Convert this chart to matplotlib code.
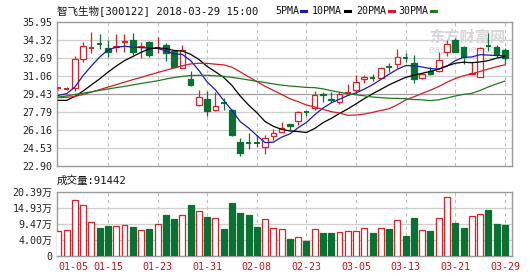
import numpy as np
import pandas as pd
import matplotlib
matplotlib.use("Agg")
import matplotlib.pyplot as plt
from matplotlib.patches import Rectangle
from matplotlib.lines import Line2D

# ---------------- data ----------------
TITLE = "智飞生物[300122] 2018-03-29 15:00"

DATES = ["01-05", "01-08", "01-09", "01-10", "01-11", "01-12", "01-15", "01-16",
         "01-17", "01-18", "01-19", "01-22", "01-23", "01-24", "01-25", "01-26",
         "01-29", "01-30", "01-31", "02-01", "02-02", "02-05", "02-06", "02-07",
         "02-08", "02-09", "02-12", "02-13", "02-14", "02-22", "02-23", "02-26",
         "02-27", "02-28", "03-01", "03-02", "03-05", "03-06", "03-07", "03-08",
         "03-09", "03-12", "03-13", "03-14", "03-15", "03-16", "03-19", "03-20",
         "03-21", "03-22", "03-23", "03-26", "03-27", "03-28", "03-29"]

OPEN = [29.90, 29.85, 30.00, 32.60, 33.55, 34.00, 33.55, 33.65, 34.15, 34.30,
        33.65, 34.10, 33.55, 33.85, 33.30, 31.80, 30.80, 28.40, 28.95, 27.95,
        28.70, 28.00, 25.10, 25.05, 25.00, 24.65, 25.65, 26.00, 26.70, 27.00,
        27.85, 28.15, 29.40, 29.00, 28.70, 29.45, 29.80, 30.75, 30.95, 30.90,
        31.95, 32.15, 32.70, 32.25, 30.85, 31.50, 31.50, 33.20, 34.35, 33.65,
        31.25, 31.00, 33.85, 33.65, 33.45]
HIGH = [30.10, 30.05, 32.90, 34.10, 35.00, 34.85, 34.30, 34.90, 34.90, 34.95,
        34.10, 34.25, 34.55, 34.05, 33.45, 33.85, 31.50, 29.80, 29.70, 29.65,
        29.10, 28.10, 25.45, 25.85, 25.70, 25.70, 26.25, 26.90, 26.75, 27.90,
        27.90, 29.70, 29.60, 29.60, 29.65, 30.30, 31.15, 31.15, 31.20, 31.90,
        32.27, 33.50, 33.10, 33.00, 31.30, 31.85, 33.20, 34.30, 34.50, 33.75,
        32.35, 33.72, 34.95, 33.87, 33.55]
LOW = [29.80, 29.75, 29.70, 32.35, 33.10, 33.50, 32.75, 33.25, 33.20, 32.95,
       32.65, 32.80, 33.15, 32.40, 31.85, 31.75, 30.15, 28.35, 27.45, 27.90,
       28.00, 25.65, 23.85, 24.40, 24.60, 24.00, 25.25, 25.95, 26.15, 26.60,
       27.40, 28.00, 28.70, 28.70, 28.55, 29.35, 29.45, 30.40, 30.60, 30.85,
       31.40, 31.80, 32.30, 30.40, 30.80, 31.15, 31.40, 32.85, 33.20, 32.15,
       31.20, 30.95, 33.35, 32.80, 32.10]
CLOSE = [29.95, 29.90, 32.60, 33.80, 33.60, 33.95, 33.20, 33.75, 34.25, 33.20,
         33.75, 33.00, 33.60, 33.10, 31.90, 33.45, 30.20, 29.15, 27.85, 28.35,
         28.65, 25.70, 24.05, 25.00, 24.95, 25.40, 25.90, 26.30, 26.50, 27.75,
         27.80, 29.35, 29.30, 28.90, 29.40, 29.50, 30.55, 31.00, 30.90, 31.75,
         31.90, 32.80, 32.65, 30.80, 31.20, 31.20, 32.55, 34.00, 33.25, 32.75,
         31.35, 33.60, 33.80, 33.05, 32.70]

# volume in units of 10,000 lots (万手)
VOLUME = [7.03, 7.37, 17.57, 16.10, 9.99, 8.16, 8.73, 8.73, 9.07, 8.39,
          7.37, 7.71, 9.30, 12.47, 11.20, 12.70, 16.10, 13.83, 11.80, 11.35,
          7.71, 16.55, 13.15, 12.47, 8.39, 11.10, 8.05, 7.71, 4.32, 4.88,
          3.64, 7.60, 6.25, 6.25, 6.58, 6.93, 6.93, 7.95, 6.25, 8.16,
          7.71, 10.67, 5.33, 11.56, 7.37, 7.03, 11.35, 18.69, 9.65, 8.16,
          12.13, 13.04, 14.17, 9.41, 9.1442]

# moving-average values before a full window of closes is available
MA5_HEAD = [29.30, 29.45, 30.05, 31.10]
MA10_HEAD = [28.85, 28.85, 29.20, 29.70, 30.25, 30.80, 31.40, 31.95, 32.45]
MA20_HEAD = [29.10, 29.12, 29.20, 29.38, 29.60, 29.82, 30.05, 30.27, 30.50, 30.72,
             30.93, 31.15, 31.37, 31.58, 31.78, 31.98, 32.15, 32.21, 32.20]
MA30_HEAD = [29.15, 29.25, 29.38, 29.50, 29.62, 29.75, 29.88, 30.00, 30.12, 30.25,
             30.38, 30.50, 30.62, 30.78, 30.92, 31.02, 31.10, 31.12, 31.12, 31.08,
             31.02, 30.93, 30.82, 30.70, 30.58, 30.46, 30.34, 30.23, 30.15]

PRICE_MIN, PRICE_MAX = 22.90, 35.95
PRICE_LABELS = ["22.90", "24.53", "26.16", "27.79", "29.43",
                "31.06", "32.69", "34.32", "35.95"]
VOL_MAX = 20.39
VOL_LABELS = ["0", "4.00万", "9.47万", "14.93万", "20.39万"]
TICK_EVERY = 6

# ---------------- style ----------------
plt.rcParams['font.family'] = ['DejaVu Sans Mono', 'Noto Sans CJK SC']
RED = '#dd1f26'
GREEN = '#0a7132'
GRID = '#cfcfcf'
FRAME = '#9a9a9a'
W, H = 530, 276

fig = plt.figure(figsize=(W / 100, H / 100), dpi=100)
fig.patch.set_facecolor('white')


def fx(px):
    return px / W


def fy(py):
    return 1 - py / H


ax = fig.add_axes([fx(56.5), fy(166), fx(512) - fx(56.5), fy(22) - fy(166)])
axv = fig.add_axes([fx(56.5), fy(256), fx(512) - fx(56.5), fy(192) - fy(256)])

n = len(CLOSE)
x = np.arange(n)
o, h, l, c = map(np.asarray, (OPEN, HIGH, LOW, CLOSE))
rising = c >= o


def moving_average(win, head):
    ma = pd.Series(c).rolling(win).mean().to_numpy()
    ma[:win - 1] = head
    return ma


for a in (ax, axv):
    a.set_xlim(-0.22, n - 1 + 0.86)
    for s in a.spines.values():
        s.set_color(FRAME)
        s.set_linewidth(1.0)
    a.tick_params(length=0, labelsize=7.2, colors='#222222', pad=3)
    for t in range(TICK_EVERY, n, TICK_EVERY):
        a.axvline(t, color='#bdbdbd', lw=0.8, ls=(0, (3, 3)), zorder=0)

# ---------------- price panel ----------------
ax.set_ylim(PRICE_MIN, PRICE_MAX)
yt = np.linspace(PRICE_MIN, PRICE_MAX, len(PRICE_LABELS))
ax.set_yticks(yt)
ax.set_yticklabels(PRICE_LABELS)
ax.set_xticks([])
for i, v in enumerate(yt[1:-1], start=1):
    ax.axhline(v, color='#9f9f9f' if i == 4 else GRID, lw=0.9, zorder=0)

# watermark
ax.text(0.985, 0.95, "东方财富网", transform=ax.transAxes, ha='right', va='top',
        fontsize=11, fontweight='bold', color='#d6d6d6', family='Noto Sans CJK SC',
        zorder=1)
ax.text(0.985, 0.84, "eastmoney.com", transform=ax.transAxes, ha='right', va='top',
        fontsize=7, color='#dedede', family='DejaVu Sans', zorder=1)

bw = 0.68
for i in range(n):
    col = RED if rising[i] else GREEN
    lo, hi = min(o[i], c[i]), max(o[i], c[i])
    ax.plot([i, i], [hi, h[i]], color=col, lw=0.9, zorder=3, solid_capstyle='butt')
    ax.plot([i, i], [l[i], lo], color=col, lw=0.9, zorder=3, solid_capstyle='butt')
    if hi - lo < 0.06:
        ax.plot([i - bw / 2, i + bw / 2], [c[i], c[i]], color=col, lw=1.4, zorder=4,
                solid_capstyle='butt')
    else:
        ax.add_patch(Rectangle((i - bw / 2, lo), bw, hi - lo,
                               facecolor='white' if rising[i] else GREEN,
                               edgecolor=col, lw=0.9, zorder=4))

ma_specs = [(5, MA5_HEAD, '#1a1ab4'), (10, MA10_HEAD, '#000000'),
            (20, MA20_HEAD, '#d41c24'), (30, MA30_HEAD, '#1f7a1f')]
for win, head, col in ma_specs:
    ax.plot(x, moving_average(win, head), color=col, lw=0.9, zorder=5)

# ---------------- volume panel ----------------
vol = np.asarray(VOLUME)
step = (VOL_MAX - float(VOL_LABELS[1].rstrip('万'))) / 3
vol_floor = VOL_MAX - 4 * step
axv.set_ylim(vol_floor, VOL_MAX)
vt = np.linspace(vol_floor, VOL_MAX, len(VOL_LABELS))
axv.set_yticks(vt)
axv.set_yticklabels(VOL_LABELS)
for v in vt[1:-1]:
    axv.axhline(v, color=GRID, lw=0.9, zorder=0)
for i in range(n):
    axv.bar(i, vol[i] - vol_floor, bottom=vol_floor, width=0.72,
            facecolor='white' if rising[i] else GREEN,
            edgecolor=RED if rising[i] else GREEN, lw=0.9, zorder=3)

ticks = list(range(0, n, TICK_EVERY))
axv.set_xticks(ticks)
axv.set_xticklabels([DATES[t] for t in ticks], color='#cc1414', fontsize=7.2)
axv.tick_params(axis='x', pad=4)
axv.get_xticklabels()[0].set_ha('left')

# ---------------- header texts ----------------
fig.text(fx(57), fy(10.5), TITLE, ha='left', va='center', fontsize=7.6, color='#111111')
legend_items = [("5PMA", 275, '#1a1ab4'), ("10PMA", 312, '#000000'),
                ("20PMA", 356, '#d41c24'), ("30PMA", 398, '#1f7a1f')]
for label, px, col in legend_items:
    t = fig.text(fx(px), fy(10.5), label, ha='left', va='center', fontsize=7.2,
                 color='#111111')
    x0 = px + len(label) * 6.1 + 2
    fig.add_artist(Line2D([fx(x0), fx(x0 + 5)], [fy(11), fy(11)], color=col, lw=2.2,
                          transform=fig.transFigure))

fig.text(fx(57), fy(180.5), f"成交量:{int(round(vol[-1] * 1e4))}", ha='left',
         va='center', fontsize=7.6, color='#111111')

fig.savefig("out.png", dpi=100, facecolor='white')
